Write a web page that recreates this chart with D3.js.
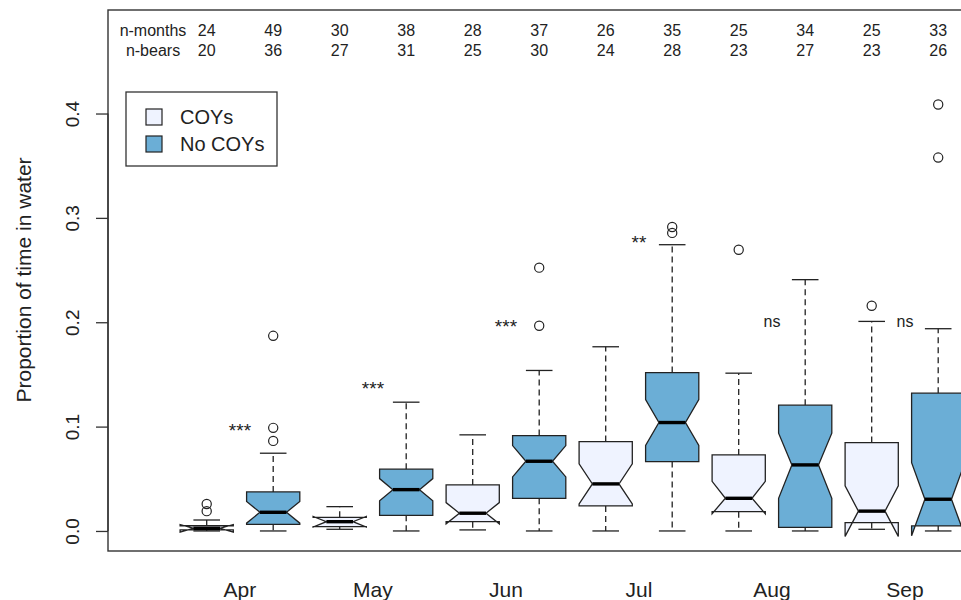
<!DOCTYPE html>
<html>
<head>
<meta charset="utf-8">
<script src="https://cdn.jsdelivr.net/npm/d3@7"></script>
<style>
  html, body { margin: 0; padding: 0; background: #fff; }
  svg { display: block; font-family: "Liberation Sans", Arial, sans-serif; }
</style>
</head>
<body>
<svg id="chart" width="961" height="600"></svg>
<script>
// Monthly proportion of time spent in water, females with and without cubs of the year
const months = ["Apr", "May", "Jun", "Jul", "Aug", "Sep"];
const groups = ["COYs", "No COYs"];
const groupFill = ["#EFF3FF", "#6BAED6"];

// sample sizes per box (COYs, No COYs alternating within each month)
const nMonths = [24, 49, 30, 38, 28, 37, 26, 35, 25, 34, 25, 33];
const nBears  = [20, 36, 27, 31, 25, 30, 24, 28, 23, 27, 23, 26];

// box statistics, one entry per box in the same order
const whiskerLo = [0, 0, 0.0016, 0, 0.001, 0, 0, 0, 0, 0, 0.0016, 0];
const q1        = [0.0010, 0.0064, 0.0041, 0.0150, 0.0089, 0.0313, 0.0240, 0.0665, 0.0185, 0.0035, 0.0080, 0.0048];
const median    = [0.0025, 0.0179, 0.0089, 0.0396, 0.0170, 0.0668, 0.0451, 0.1039, 0.0313, 0.0633, 0.0190, 0.0304];
const q3        = [0.0050, 0.0374, 0.0131, 0.0592, 0.0441, 0.0914, 0.0857, 0.1518, 0.0729, 0.1205, 0.0847, 0.1320];
const whiskerHi = [0.0105, 0.0745, 0.0233, 0.1234, 0.0921, 0.1538, 0.1765, 0.2743, 0.1512, 0.2408, 0.2008, 0.1938];
const notchLo   = [-0.0012, 0.0075, 0.0038, 0.0290, 0.0068, 0.0518, 0.0259, 0.0820, 0.0165, 0.0313, -0.0052, -0.0045];
const notchHi   = [0.0062, 0.0283, 0.0140, 0.0502, 0.0272, 0.0818, 0.0643, 0.1258, 0.0475, 0.0937, 0.0432, 0.0655];
const outliers  = [
  [0.0190, 0.0258], [0.0863, 0.0988, 0.1870],
  [], [],
  [], [0.1966, 0.2523],
  [], [0.2856, 0.2913],
  [0.2695], [],
  [0.2158], [0.3578, 0.4086]
];

// significance of the COYs vs No COYs comparison per month
const sigText = ["***", "***", "***", "**", "ns", "ns"];
const sigY    = [0.10, 0.14, 0.20, 0.28, 0.20, 0.20];

const yTicks = [0, 0.1, 0.2, 0.3, 0.4];

const svg = d3.select("#chart");
const W = 961, H = 600;
const plot = { left: 108, top: 10, bottom: 551, right: 990 };

svg.append("rect").attr("width", W).attr("height", H).attr("fill", "#fff");

const x = d3.scaleLinear().domain([0, 11]).range([206.7, 938.2]);
const y = d3.scaleLinear().domain([-0.0192, 0.4992]).range([plot.bottom, plot.top]);

const step = x(1) - x(0);
const wid = step * 0.8 / 2;      // half box width
const nf = 0.5;                   // notch depth fraction
const staple = wid * 0.5;         // half staple length
const ink = "#222";

const boxes = d3.range(nMonths.length).map(i => ({
  i, g: i % 2,
  lo: whiskerLo[i], q1: q1[i], med: median[i], q3: q3[i], hi: whiskerHi[i],
  cLo: notchLo[i], cHi: notchHi[i], out: outliers[i]
}));

const gBox = svg.append("g");
boxes.forEach(b => {
  const cx = x(b.i);
  const g = gBox.append("g");
  // whiskers
  g.append("line").attr("x1", cx).attr("x2", cx).attr("y1", y(b.q3)).attr("y2", y(b.hi))
    .attr("stroke", ink).attr("stroke-width", 1.3).attr("stroke-dasharray", "6,4");
  g.append("line").attr("x1", cx).attr("x2", cx).attr("y1", y(b.q1)).attr("y2", y(b.lo))
    .attr("stroke", ink).attr("stroke-width", 1.3).attr("stroke-dasharray", "6,4");
  // staples
  [b.hi, b.lo].forEach(v => {
    g.append("line").attr("x1", cx - staple).attr("x2", cx + staple)
      .attr("y1", y(v)).attr("y2", y(v)).attr("stroke", ink).attr("stroke-width", 1.3);
  });
  // notched box
  const xs = [-1, 1, 1, nf, 1, 1, -1, -1, -nf, -1].map(f => cx + wid * f);
  const ys = [b.q1, b.q1, b.cLo, b.med, b.cHi, b.q3, b.q3, b.cHi, b.med, b.cLo].map(v => y(v));
  const pts = xs.map((xx, k) => [xx, ys[k]]);
  g.append("path").attr("d", d3.line()(pts) + "Z")
    .attr("fill", groupFill[b.g]).attr("stroke", ink).attr("stroke-width", 1.3)
    .attr("stroke-linejoin", "miter");
  // median
  g.append("line").attr("x1", cx - wid * nf).attr("x2", cx + wid * nf)
    .attr("y1", y(b.med)).attr("y2", y(b.med)).attr("stroke", "#000").attr("stroke-width", 3.4);
  // outliers
  b.out.forEach(v => {
    g.append("circle").attr("cx", cx).attr("cy", y(v)).attr("r", 4.6)
      .attr("fill", "none").attr("stroke", ink).attr("stroke-width", 1.2);
  });
});

// plot frame
svg.append("rect").attr("x", plot.left).attr("y", plot.top)
  .attr("width", plot.right - plot.left).attr("height", plot.bottom - plot.top)
  .attr("fill", "none").attr("stroke", "#333").attr("stroke-width", 1.4);

// y axis
const yAxis = svg.append("g").attr("transform", `translate(${plot.left},0)`)
  .call(d3.axisLeft(y).tickValues(yTicks).tickSize(12).tickFormat(d3.format(".1f")));
yAxis.select(".domain").attr("stroke", "#333").attr("stroke-width", 1.3)
  .attr("d", `M0,${y(0)}V${y(0.4)}`);
yAxis.selectAll(".tick line").attr("stroke", "#333").attr("stroke-width", 1.3);
yAxis.selectAll(".tick text")
  .attr("transform", "rotate(-90)")
  .attr("x", 0).attr("y", -29).attr("dy", null)
  .attr("text-anchor", "middle")
  .attr("font-size", 19).attr("fill", "#222")
  .attr("font-family", "Liberation Sans, Arial, sans-serif");

svg.append("text")
  .attr("transform", `translate(31,280) rotate(-90)`)
  .attr("text-anchor", "middle").attr("font-size", 21).attr("fill", "#222")
  .text("Proportion of time in water");

// month labels
svg.append("g").selectAll("text").data(months).join("text")
  .attr("x", (d, k) => (x(2 * k) + x(2 * k + 1)) / 2)
  .attr("y", 597).attr("text-anchor", "middle").attr("font-size", 21).attr("fill", "#222")
  .text(d => d);

// sample-size rows
svg.append("text").attr("x", 153).attr("y", 36.4).attr("text-anchor", "middle")
  .attr("font-size", 16).attr("fill", "#222").text("n-months");
svg.append("text").attr("x", 153).attr("y", 56.4).attr("text-anchor", "middle")
  .attr("font-size", 16).attr("fill", "#222").text("n-bears");
svg.append("g").selectAll("text").data(nMonths).join("text")
  .attr("x", (d, k) => x(k)).attr("y", 36.4).attr("text-anchor", "middle")
  .attr("font-size", 16).attr("fill", "#222").text(d => d);
svg.append("g").selectAll("text").data(nBears).join("text")
  .attr("x", (d, k) => x(k)).attr("y", 56.4).attr("text-anchor", "middle")
  .attr("font-size", 16).attr("fill", "#222").text(d => d);

// significance labels
svg.append("g").selectAll("text").data(sigText).join("text")
  .attr("x", (d, k) => (x(2 * k) + x(2 * k + 1)) / 2)
  .attr("y", (d, k) => y(sigY[k]) + (d === "ns" ? 4.5 : 10.5))
  .attr("text-anchor", "middle")
  .attr("font-size", d => d === "ns" ? 16 : 19)
  .attr("fill", "#222")
  .text(d => d);

// legend
const lg = svg.append("g");
lg.append("rect").attr("x", 126).attr("y", 92).attr("width", 151).attr("height", 74)
  .attr("fill", "#fff").attr("stroke", "#333").attr("stroke-width", 1.3);
groups.forEach((name, k) => {
  const cy = 117 + k * 27;
  lg.append("rect").attr("x", 146).attr("y", cy - 8).attr("width", 16).attr("height", 16)
    .attr("fill", groupFill[k]).attr("stroke", ink).attr("stroke-width", 1.2);
  lg.append("text").attr("x", 180).attr("y", cy + 7).attr("font-size", 20).attr("fill", "#222")
    .text(name);
});
</script>
</body>
</html>
